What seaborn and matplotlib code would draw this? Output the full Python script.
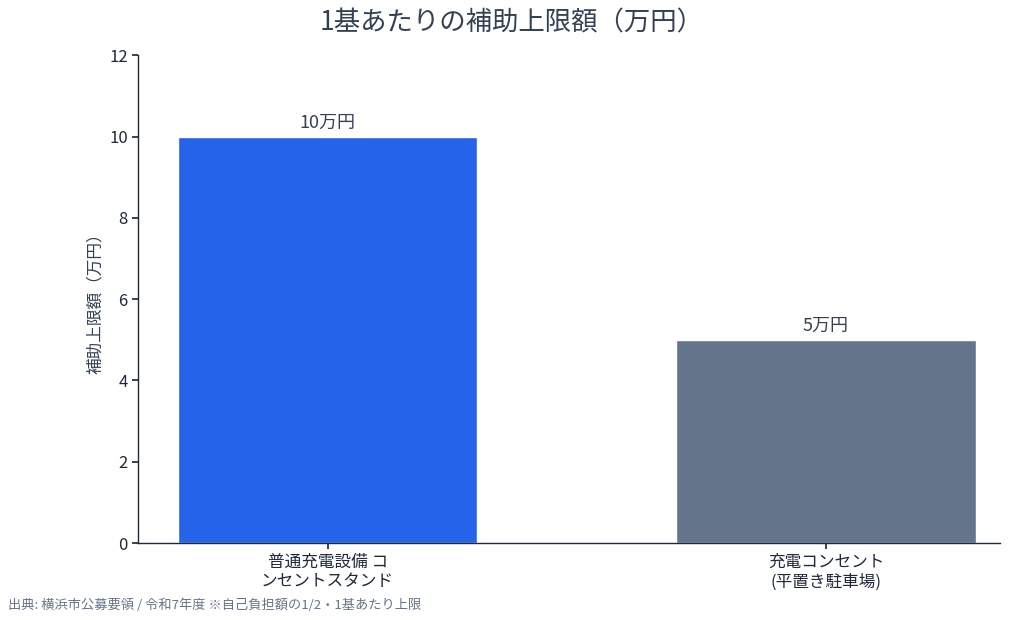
import matplotlib
matplotlib.use("Agg")
import matplotlib.pyplot as plt
import seaborn as sns
import pandas as pd

categories = ["普通充電設備 コ\nンセントスタンド", "充電コンセント\n(平置き駐車場)"]
values = [10, 5]
labels = ["10万円", "5万円"]
colors = ["#2563EB", "#64748B"]

sns.set_theme(style="white")
plt.rcParams['font.family'] = ['Noto Sans CJK JP', 'DejaVu Sans']

df = pd.DataFrame({"cat": categories, "val": values})
fig = plt.figure(figsize=(10.24, 6.2), dpi=100)
ax = fig.add_axes([0.135, 0.124, 0.842, 0.787])
sns.barplot(data=df, x="cat", y="val", hue="cat", palette=colors, width=0.6,
            legend=False, ax=ax, saturation=1)
for i, (v, l) in enumerate(zip(values, labels)):
    ax.text(i, v + 0.12, l, ha="center", va="bottom", fontsize=13, color="#334155")
ax.set_xlim(-0.38, 1.35)
ax.set_ylim(0, 12)
ax.set_yticks(range(0, 13, 2))
ax.set_xlabel("")
ax.set_ylabel("補助上限額（万円）", fontsize=12, color="#334155")
ax.tick_params(axis="both", labelsize=12, colors="#1E293B", length=4, left=True, bottom=True)
for s in ["top", "right"]:
    ax.spines[s].set_visible(False)
for s in ["left", "bottom"]:
    ax.spines[s].set_color("#1E293B")
    ax.spines[s].set_linewidth(1)
fig.suptitle("1基あたりの補助上限額（万円）", fontsize=19, color="#334155", y=0.985)
fig.text(0.008, 0.018, "出典: 横浜市公募要領 / 令和7年度 ※自己負担額の1/2・1基あたり上限",
         fontsize=9.5, color="#64748B")
fig.savefig("out.png", dpi=100)
